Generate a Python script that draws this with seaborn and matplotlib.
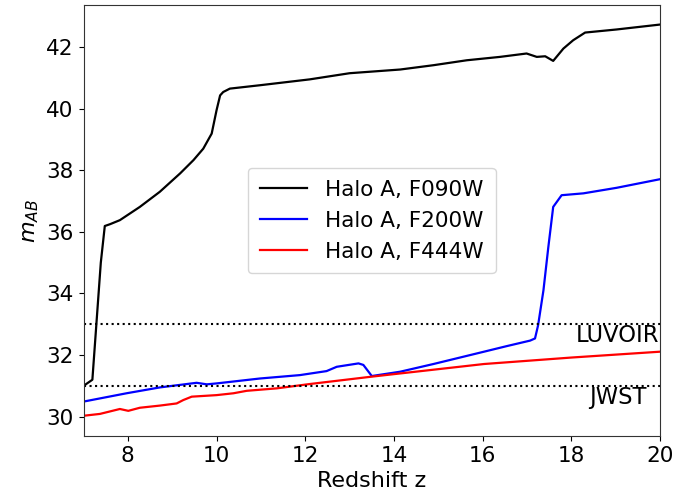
import numpy as np
import pandas as pd
import matplotlib
matplotlib.use("Agg")
import matplotlib.pyplot as plt
import seaborn as sns

# Data
z_f090 = [7.0, 7.2, 7.39, 7.48, 7.6, 7.82, 8.27, 8.72, 9.18, 9.48, 9.70, 9.89, 10.0,
          10.08, 10.15, 10.3, 10.98, 12.1, 13.0, 14.14, 14.89, 15.64, 16.39, 16.99,
          17.22, 17.41, 17.59, 17.82, 18.04, 18.31, 19.02, 20.0]
m_f090 = [31.0, 31.2, 35.0, 36.19, 36.25, 36.38, 36.81, 37.3, 37.9, 38.33, 38.7, 39.19, 39.95,
          40.43, 40.54, 40.65, 40.76, 40.95, 41.15, 41.27, 41.41, 41.57, 41.68, 41.79,
          41.68, 41.70, 41.55, 41.95, 42.22, 42.47, 42.57, 42.73]

z_f200 = [7.0, 7.97, 8.72, 9.55, 9.78, 10.0, 10.98, 11.88, 12.48, 12.71, 13.2, 13.31,
          13.5, 14.14, 14.89, 16.03, 16.54, 17.07, 17.18, 17.25, 17.37, 17.48, 17.59,
          17.78, 18.27, 19.02, 20.0]
m_f200 = [30.49, 30.76, 30.95, 31.10, 31.05, 31.08, 31.24, 31.35, 31.48, 31.62, 31.73, 31.68,
          31.32, 31.46, 31.71, 32.11, 32.29, 32.47, 32.54, 32.97, 34.1, 35.5, 36.81,
          37.19, 37.25, 37.43, 37.71]

z_f444 = [7.0, 7.37, 7.82, 8.01, 8.27, 8.72, 9.1, 9.25, 9.44, 10.0, 10.38, 10.68, 11.36,
          12.1, 13.5, 16.03, 18.0, 20.0]
m_f444 = [30.03, 30.09, 30.25, 30.19, 30.29, 30.36, 30.43, 30.54, 30.65, 30.70, 30.76, 30.84,
          30.92, 31.06, 31.3, 31.71, 31.92, 32.11]

labels = ["Halo A, F090W", "Halo A, F200W", "Halo A, F444W"]
colors = ["black", "blue", "red"]
limits = [33.0, 31.0]
limit_names = ["LUVOIR", "JWST"]

df = pd.concat([
    pd.DataFrame({"z": z_f090, "m": m_f090, "series": labels[0]}),
    pd.DataFrame({"z": z_f200, "m": m_f200, "series": labels[1]}),
    pd.DataFrame({"z": z_f444, "m": m_f444, "series": labels[2]}),
], ignore_index=True)

plt.rcParams["font.family"] = ["DejaVu Sans"]
plt.rcParams["font.size"] = 16

fig = plt.figure(figsize=(6.93, 4.95), dpi=100)
ax = fig.add_axes([0.1205, 0.119, 0.832, 0.870])

sns.lineplot(data=df, x="z", y="m", hue="series", palette=dict(zip(labels, colors)),
             sort=False, estimator=None, lw=1.6, ax=ax)

for y, name in zip(limits, limit_names):
    ax.axhline(y, color="black", ls=":", lw=1.5)
    ax.text(19.05, y - 0.38, name, ha="center", va="center", fontsize=16.3)

ax.set_xlim(7, 20)
ax.set_ylim(29.37, 43.35)
ax.set_xticks([8, 10, 12, 14, 16, 18, 20])
ax.set_yticks([30, 32, 34, 36, 38, 40, 42])
ax.tick_params(labelsize=15.5)
for s in ax.spines.values():
    s.set_color("#333333")
ax.set_xlabel("Redshift z", fontsize=16)
ax.set_ylabel("$m_{AB}$", fontsize=16)
leg = ax.legend(loc="center", fontsize=15.5, handlelength=2.2, handletextpad=0.85,
                borderpad=0.55)
leg.set_title(None)

fig.savefig("out.png", dpi=100)
